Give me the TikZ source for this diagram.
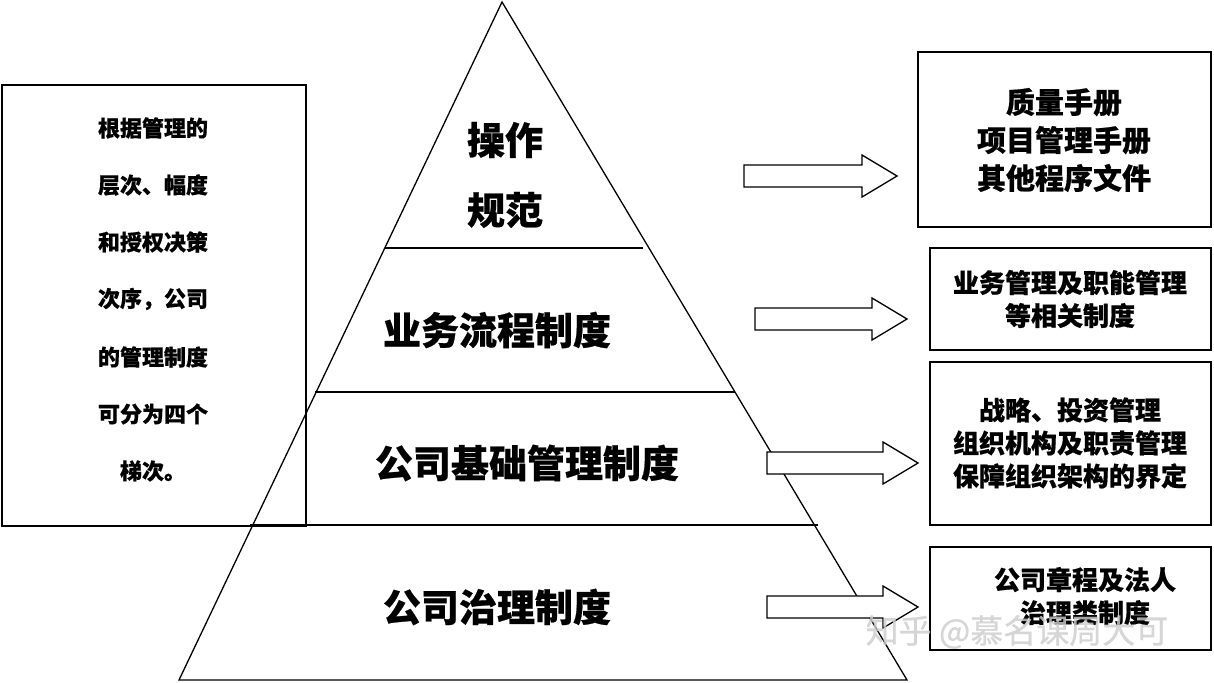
\documentclass[tikz,border=0pt]{standalone}
\usepackage{fontspec}
\setmainfont{Noto Sans CJK SC}[FakeBold=0.6]
\begin{document}
\begin{tikzpicture}[x=1pt,y=-1pt,line width=1.3pt,
  big/.style={font=\fontsize{38}{40}\bfseries\selectfont},
  lt/.style={font=\fontsize{22}{24}\bfseries\selectfont},
  rt/.style={font=\fontsize{29}{38}\bfseries\selectfont,align=center},
  rs/.style={font=\fontsize{26}{33}\bfseries\selectfont,align=center},
  barrow/.style={draw,line width=1.3pt,fill=white}]
\useasboundingbox (0,0) rectangle (1214,682);
% pyramid
\draw (502,2) -- (179,680) -- (907,680) -- cycle;
\draw (385,248) -- (643,248);
\draw (315,392) -- (735,392);
\draw (250,525) -- (818,525);
\node[big] (t1) at (505,140) {操作};
\node[big] (t2) at (505,210) {规范};
\node[big] (t3) at (497,330) {业务流程制度};
\node[big] (t4) at (527,463) {公司基础管理制度};
\node[big] (t5) at (497,607) {公司治理制度};
% left box
\draw (2,85) rectangle (306,526);
\foreach \t/\y in {根据管理的/128,层次、幅度/185,和授权决策/242,次序，公司/299,的管理制度/357,可分为四个/414,梯次。/471}
  \node[lt] at (153,\y) {\t};
% block arrows
\newcommand\blockarr[3]{% x0, y center, x tip
  \draw[barrow] (#1,#2-11) -- (#3-35,#2-11) -- (#3-35,#2-21) -- (#3,#2) -- (#3-35,#2+21) -- (#3-35,#2+11) -- (#1,#2+11) -- cycle;}
\blockarr{744}{176}{897}
\blockarr{755}{319}{907}
\blockarr{767}{463}{918}
\blockarr{767}{607}{918}
% right boxes
\draw (918,52) rectangle (1211,227);
\node[rt] (b1) at (1064,140) {质量手册\\项目管理手册\\其他程序文件};
\draw (930,248) rectangle (1211,350);
\node[rs] (b2) at (1070,299) {业务管理及职能管理\\等相关制度};
\draw (930,362) rectangle (1211,525);
\node[rs] (b3) at (1070,443) {战略、投资管理\\组织机构及职责管理\\保障组织架构的界定};
\draw (930,547) rectangle (1211,650);
\node[rs] (b4) at (1085,596) {公司章程及法人\\治理类制度};
\node[font=\fontsize{33}{33}\selectfont,text=gray!40,opacity=0.8] (wm) at (1017,632) {知乎 @慕名课周大可};
\end{tikzpicture}
\end{document}
